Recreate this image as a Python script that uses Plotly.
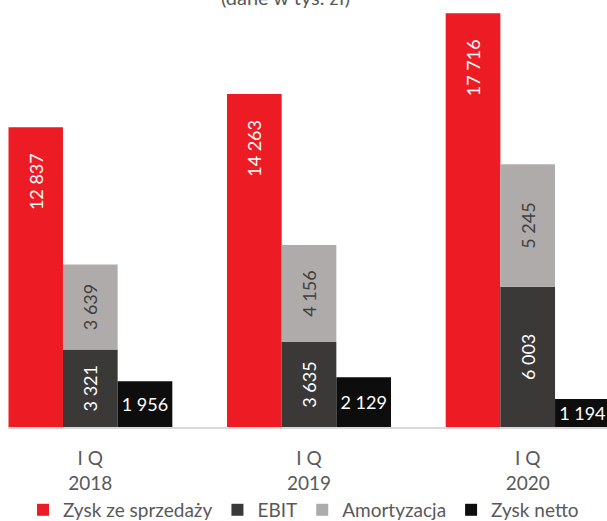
import plotly.graph_objects as go

# Quarterly results, in thousands of PLN
quarters = ["I Q<br>2018", "I Q<br>2019", "I Q<br>2020"]
zysk_sprzedazy = [12837, 14263, 17716]
ebit = [3321, 3635, 6003]
amortyzacja = [3639, 4156, 5245]
zysk_netto = [1956, 2129, 1194]

RED = "#ED1C24"
DARK = "#3B3838"
LIGHT = "#AFABAB"
BLACK = "#0D0D0D"
TXT = "#595959"
FONT = "Lato"
FS = 18

NBSP = "\u00a0"

fig = go.Figure()

fig.add_trace(go.Bar(
    name="Zysk ze sprzedaży", x=quarters, y=zysk_sprzedazy,
    marker=dict(color=RED, line=dict(width=0)), offsetgroup="a",
    texttemplate="%{y:,}" + NBSP * 5, textposition="inside",
    insidetextanchor="end", textangle=-90, constraintext="none",
    textfont=dict(color="white", family=FONT, size=FS),
))
fig.add_trace(go.Bar(
    name="EBIT", x=quarters, y=ebit,
    marker=dict(color=DARK, line=dict(width=0)), offsetgroup="b",
    texttemplate="%{y:,}", textposition="inside",
    insidetextanchor="middle", textangle=-90, constraintext="none",
    textfont=dict(color="white", family=FONT, size=FS),
))
fig.add_trace(go.Bar(
    name="Amortyzacja", x=quarters, y=amortyzacja, base=ebit,
    marker=dict(color=LIGHT, line=dict(width=0)), offsetgroup="b",
    texttemplate="%{y:,}", textposition="inside",
    insidetextanchor="middle", textangle=-90, constraintext="none",
    textfont=dict(color="#404040", family=FONT, size=FS),
))
fig.add_trace(go.Bar(
    name="Zysk netto", x=quarters, y=zysk_netto,
    marker=dict(color=BLACK, line=dict(width=0)), offsetgroup="c",
    texttemplate="%{y:,}", textposition="inside",
    insidetextanchor="middle", textangle=0, constraintext="none",
    textfont=dict(color="white", family=FONT, size=FS),
))

fig.add_annotation(
    text="(dane w tys. zł)", xref="paper", yref="paper",
    x=0.471, y=1.021, xanchor="center", yanchor="middle",
    showarrow=False, font=dict(family=FONT, size=20, color=TXT),
)

fig.update_layout(
    width=607, height=521,
    margin=dict(l=0, r=0, t=6, b=94, autoexpand=False),
    paper_bgcolor="white", plot_bgcolor="white",
    barmode="group", bargap=0.25, bargroupgap=0,
    separators=", ",
    font=dict(family=FONT, size=FS, color=TXT),
    showlegend=True,
    legend=dict(
        orientation="h", x=0.5, xanchor="center", y=-0.197, yanchor="middle",
        font=dict(family=FONT, size=19, color=TXT), traceorder="normal",
    ),
    xaxis=dict(
        domain=[8.3 / 607, 1], range=[-0.375, 2.3626],
        showline=True, linecolor="#D9D9D9", linewidth=2,
        showgrid=False, ticks="", ticklabelstandoff=13,
        tickfont=dict(family=FONT, size=19, color=TXT),
    ),
    yaxis=dict(range=[0, 18030], visible=False, showgrid=False),
)

fig.write_html("out.html")
